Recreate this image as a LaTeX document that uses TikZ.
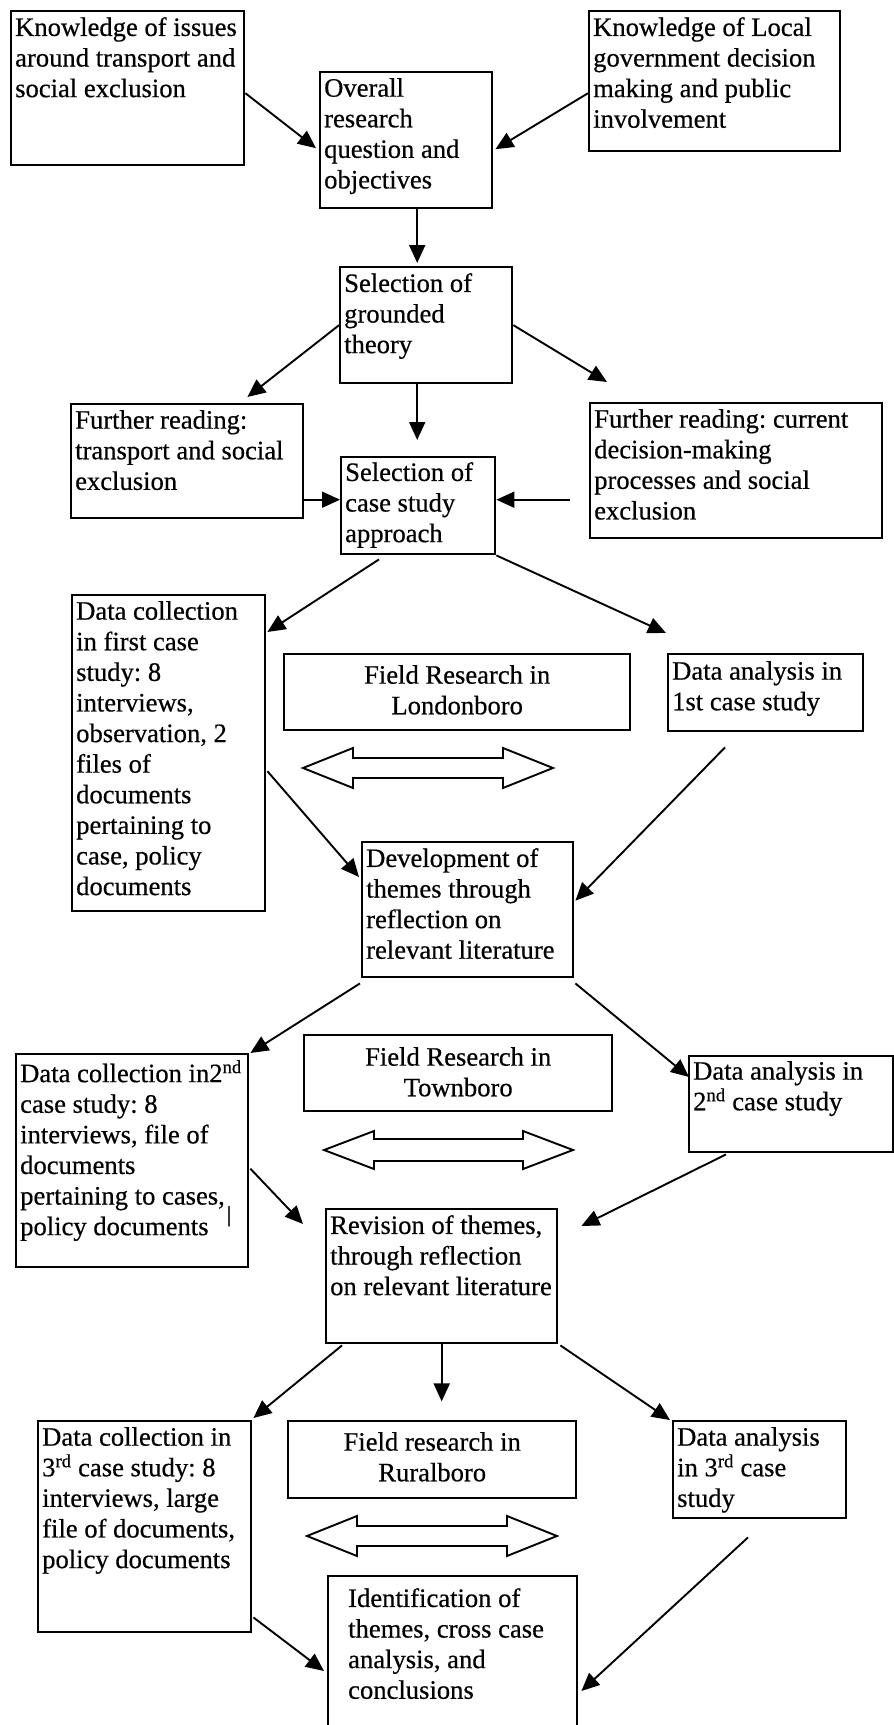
\documentclass[tikz,border=0pt]{standalone}
\usepackage{fontspec}
\setmainfont[FakeBold=0.5]{Liberation Serif}
\usetikzlibrary{arrows.meta,calc}
\newcommand\myfs{\fontsize{26.6pt}{30.6pt}\selectfont\frenchspacing}
\newcommand\dblarrow[6]{%
  \draw[dbl] (#1,#3) -- (#1+#6,#3-#4) -- (#1+#6,#3-#5) -- (#2-#6,#3-#5) -- (#2-#6,#3-#4)
   -- (#2,#3) -- (#2-#6,#3+#4) -- (#2-#6,#3+#5) -- (#1+#6,#3+#5) -- (#1+#6,#3+#4) -- cycle;}
\begin{document}
\begin{tikzpicture}[x=1pt,y=-1pt,
  box/.style={draw, line width=2.4pt, inner sep=0pt, anchor=north west},
  txt/.style={anchor=north west, inner sep=0pt, align=left, font=\myfs, execute at begin node=\strut},
  ctxt/.style={anchor=north, inner sep=0pt, align=center, font=\myfs, execute at begin node=\strut},
  arr/.style={line width=1.9pt, -{Triangle[length=18pt,width=16pt]}},
  dbl/.style={line width=1.9pt, line join=miter}]
\fill[white] (0,0) rectangle (894,1725);
\useasboundingbox (0,0) rectangle (894,1725);

% boxes
\node[box, minimum width=233pt, minimum height=154pt] (a) at (10,10) {};
\node[box, minimum width=172pt, minimum height=136pt] (b) at (319,71) {};
\node[box, minimum width=251pt, minimum height=140pt] (c) at (588,10) {};
\node[box, minimum width=172pt, minimum height=116pt] (d) at (339,266) {};
\node[box, minimum width=232pt, minimum height=114pt] (e) at (70,403) {};
\node[box, minimum width=154pt, minimum height=97pt] (f) at (340,456) {};
\node[box, minimum width=292pt, minimum height=135pt] (g) at (589,402) {};
\node[box, minimum width=193pt, minimum height=316pt] (h) at (71,594) {};
\node[box, minimum width=346pt, minimum height=76pt] (i) at (283,653) {};
\node[box, minimum width=195pt, minimum height=77pt] (j) at (667,653) {};
\node[box, minimum width=211pt, minimum height=135pt] (k) at (361,841) {};
\node[box, minimum width=232pt, minimum height=213pt] (l) at (15,1053) {};
\node[box, minimum width=308pt, minimum height=76pt] (m) at (303,1034) {};
\node[box, minimum width=204pt, minimum height=96pt] (n) at (688,1055) {};
\node[box, minimum width=231pt, minimum height=134pt] (o) at (325,1208) {};
\node[box, minimum width=213pt, minimum height=211pt] (p) at (37,1420) {};
\node[box, minimum width=288pt, minimum height=77pt] (q) at (287,1420) {};
\node[box, minimum width=173pt, minimum height=97pt] (r) at (672,1420) {};
\node[box, minimum width=249pt, minimum height=160pt] (s) at (327,1575) {};

% texts
\node[txt] (at) at ($(a.north west)+(5,7)$) {Knowledge of issues\\around transport and\\social exclusion};
\node[txt] (bt) at ($(b.north west)+(5,7)$) {Overall\\research\\question and\\objectives};
\node[txt] (ct) at ($(c.north west)+(5,7)$) {Knowledge of Local\\government decision\\making and public\\involvement};
\node[txt] (dt) at ($(d.north west)+(5,7)$) {Selection of\\grounded\\theory};
\node[txt] (et) at ($(e.north west)+(5,7)$) {Further reading:\\transport and social\\exclusion};
\node[txt] (ft) at ($(f.north west)+(5,6)$) {Selection of\\case study\\approach};
\node[txt] (gt) at ($(g.north west)+(5,7)$) {Further reading: current\\decision-making\\processes and social\\exclusion};
\node[txt] (ht) at ($(h.north west)+(5,7)$) {Data collection\\in first case\\study: 8\\interviews,\\observation, 2\\files of\\documents\\pertaining to\\case, policy\\documents};
\node[ctxt] (it) at ($(i.north)+(0,12)$) {Field Research in\\Londonboro};
\node[txt] (jt) at ($(j.north west)+(5,8)$) {Data analysis in\\1st case study};
\node[txt] (kt) at ($(k.north west)+(5,7)$) {Development of\\themes through\\reflection on\\relevant literature};
\node[txt] (lt) at ($(l.north west)+(5,7)$) {Data collection in2\textsuperscript{nd}\\case study: 8\\interviews, file of\\documents\\pertaining to cases,\kern2pt\raisebox{-17pt}[0pt][0pt]{\fontsize{22pt}{22pt}\selectfont |}\\policy documents};
\node[ctxt] (mt) at ($(m.north)+(0,13)$) {Field Research in\\Townboro};
\node[txt] (nt) at ($(n.north west)+(5,6)$) {Data analysis in\\2\textsuperscript{nd} case study};
\node[txt] (ot) at ($(o.north west)+(5,7)$) {Revision of themes,\\through reflection\\on relevant literature};
\node[txt] (pt) at ($(p.north west)+(5,7)$) {Data collection in\\3\textsuperscript{rd} case study: 8\\interviews, large\\file of documents,\\policy documents};
\node[ctxt] (qt) at ($(q.north)+(0,12)$) {Field research in\\Ruralboro};
\node[txt] (rt) at ($(r.north west)+(5,7)$) {Data analysis\\in 3\textsuperscript{rd} case\\study};
\node[txt] (st) at ($(s.north west)+(21,13)$) {Identification of\\themes, cross case\\analysis, and\\conclusions};

% connectors
\draw[arr] ($(a.east)+(0,5)$) -- ($(b.west)+(-3,8)$);
\draw[arr] ($(c.west)+(0,12)$) -- ($(b.east)+(2,9)$);
\draw[arr] ($(b.south)+(11,0)$) -- ($(d.north)+(-9,-3)$);
\draw[arr] (d.west) -- ($(e.north east)+(-57,-6)$);
\draw[arr] (d.east) -- ($(g.north west)+(18,-20)$);
\draw[arr] ($(d.south)+(-9,0)$) -- ($(f.north)+(-1,-16)$);
\coordinate (fa) at ($(f.west)+(0,-6)$);
\coordinate (fb) at ($(f.east)+(0,-6)$);
\draw[arr] (e.east |- fa) -- (fa);
\draw[arr] ($(g.west |- fb)+(-19,0)$) -- (fb);
\draw[arr] ($(f.south west)+(39,4)$) -- ($(h.north east)+(1,38)$);
\draw[arr] (f.south east) -- ($(j.north west)+(-1,-20)$);
\draw[arr] ($(h.east)+(1,18)$) -- ($(k.north west)+(-2,36)$);
\draw[arr] ($(j.south west)+(58,15)$) -- ($(k.east)+(1,-9)$);
\draw[arr] ($(k.south west)+(-1,5)$) -- ($(l.north east)+(1,0)$);
\draw[arr] ($(k.south east)+(1,5)$) -- ($(n.north west)+(1,22)$);
\draw[arr] ($(l.east)+(1,8)$) -- ($(o.north west)+(-22,16)$);
\draw[arr] ($(n.south west)+(38,1)$) -- ($(o.north east)+(23,18)$);
\draw[arr] ($(o.south west)+(17,1)$) -- ($(p.north east)+(1,-2)$);
\coordinate (od) at ($(o.south)+(0,57)$);
\draw[arr] (o.south) -- (od);
\draw[arr] ($(o.south east)+(2,1)$) -- ($(r.north west)+(-2,0)$);
\draw[arr] ($(p.south east)+(1,-16)$) -- ($(s.north west)+(-3,96)$);
\draw[arr] ($(r.south west)+(76,18)$) -- ($(s.north east)+(3,116)$);

% double arrows
\dblarrow{303}{553}{768}{20}{10}{50}
\dblarrow{324}{573}{1150}{19}{11}{50}
\dblarrow{307}{557}{1536}{20}{10}{50}
\end{tikzpicture}
\end{document}
